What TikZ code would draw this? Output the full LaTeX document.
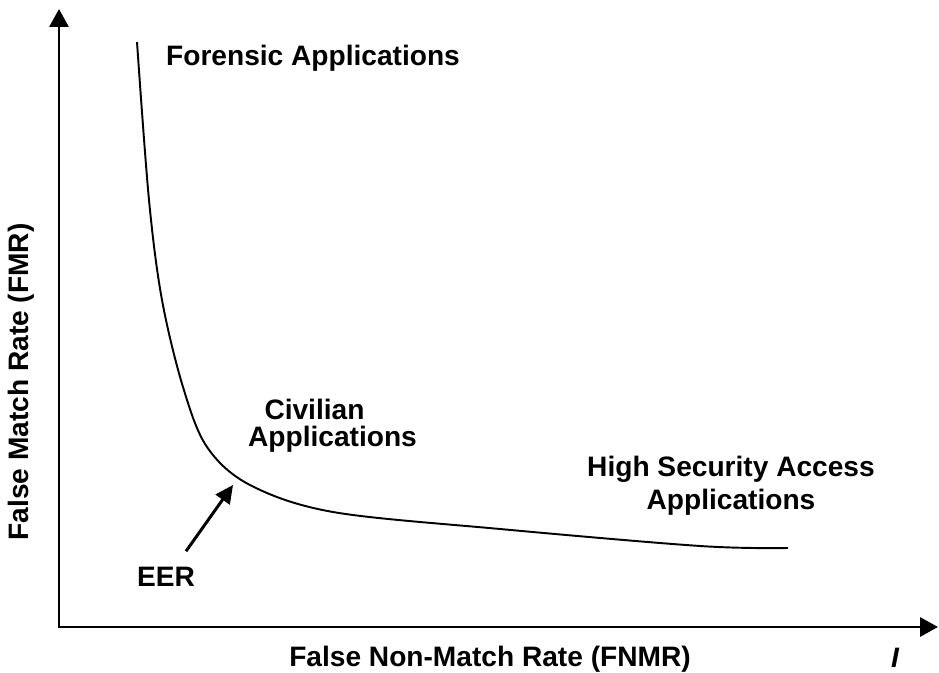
\documentclass[tikz,border=0pt]{standalone}
\usepackage{fontspec}
\setmainfont{Liberation Sans}
\usepackage{tikz}
\usetikzlibrary{positioning,calc,arrows.meta}

\begin{document}
\begin{tikzpicture}[cap=butt,
    >={Triangle[width=0.38cm,length=0.36cm]},
    lbl/.style={font=\fontsize{16}{19}\selectfont\bfseries, inner sep=1pt}]
        \useasboundingbox (0,0) rectangle (18.78cm,13.44cm);

        % draw the axes
        \coordinate (origin) at (1.18cm,0.9cm);
        \coordinate (ytip) at (1.18cm,13.26cm);
        \coordinate (xtip) at (18.76cm,0.9cm);
        \draw[line width=1.7pt,->] (origin) -- (ytip);
        \draw[line width=1.7pt,->] ($(origin)+(-0.03cm,0)$) -- (xtip);

        % draw the curve
        \draw[line width=1.1pt] plot[smooth,tension=0.55] coordinates {
            (2.74,12.6) (2.98,9.44) (3.24,7.44) (3.66,5.7) (4.14,4.5)
            (5.0,3.74) (6.66,3.2) (10.0,2.86) (14.0,2.52) (15.76,2.48)};

        % regions of the curve
        \node[lbl] (forensic) at (6.26cm,12.27cm) {Forensic Applications};
        \node[lbl] (civilian) at (6.29cm,5.26cm) {Civilian};
        \node[lbl] (civilianapp) at (6.65cm,4.66cm) {Applications};
        \node[lbl,align=center] (highsec) at (14.62cm,3.72cm) {High Security Access\\Applications};

        % equal error rate
        \node[lbl] (eer) at (3.32cm,1.9cm) {EER};
        \coordinate (eertip) at (4.66cm,3.74cm);
        \draw[line width=1.7pt,->,>={Triangle[width=0.34cm,length=0.36cm]}]
            ($(eer.north east)+(-0.22cm,0.28cm)$) -- (eertip);

        % axis labels
        \node[lbl] (xlabel) at (9.8cm,0.26cm) {False Non-Match Rate (FNMR)};
        \node[lbl,rotate=90] (ylabel) at (0.42cm,5.8cm) {False Match Rate (FMR)};
        \node[lbl,font=\fontsize{16}{19}\selectfont\bfseries\itshape] (xunit) at (17.9cm,0.28cm) {I};
\end{tikzpicture}
\end{document}
